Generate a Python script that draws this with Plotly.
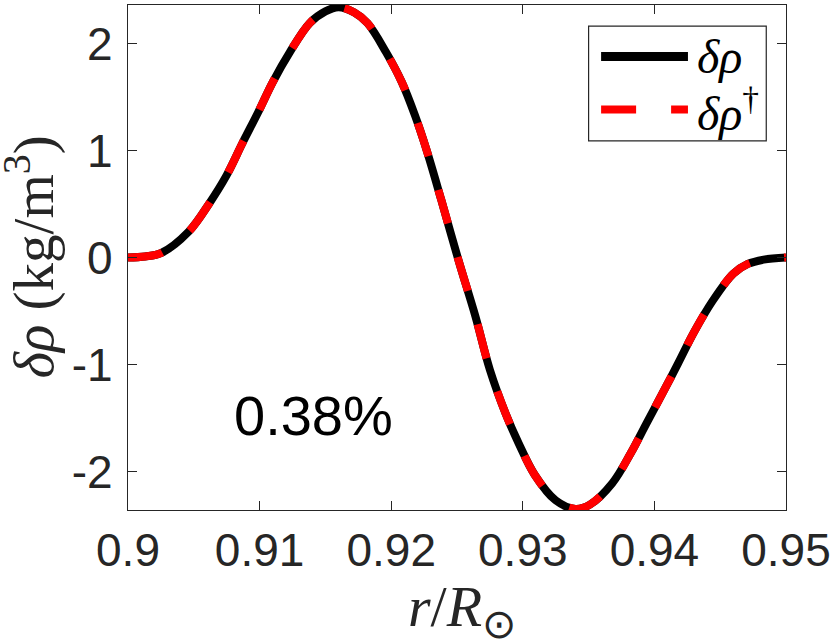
import plotly.graph_objects as go

# radius r/R_sun and density perturbation (kg/m^3)
r_ratio = [0.9000, 0.9013, 0.9025, 0.9046, 0.9062, 0.9075, 0.9087, 0.9099, 0.9110,
           0.9123, 0.9138, 0.9150, 0.9160, 0.9172, 0.9182, 0.9196, 0.9208, 0.9218,
           0.9227, 0.9238, 0.9251, 0.9264, 0.9275, 0.9287, 0.9297, 0.9309, 0.9325,
           0.9340, 0.9351, 0.9368, 0.9382, 0.9394, 0.9407, 0.9418, 0.9430, 0.9444,
           0.9460, 0.9471, 0.9483, 0.9500]
drho = [0.00, 0.01, 0.04, 0.24, 0.51, 0.77, 1.07, 1.36, 1.64,
        1.92, 2.19, 2.30, 2.34, 2.29, 2.19, 1.92, 1.64, 1.33,
        1.00, 0.54, -0.02, -0.55, -1.05, -1.46, -1.74, -2.03, -2.27,
        -2.35, -2.31, -2.11, -1.83, -1.55, -1.25, -0.99, -0.70, -0.41,
        -0.15, -0.06, -0.02, 0.00]
# the adjoint curve lies on top of the forward one
drho_adj = [0.00, 0.01, 0.04, 0.24, 0.51, 0.77, 1.07, 1.36, 1.64,
            1.92, 2.19, 2.30, 2.34, 2.29, 2.19, 1.92, 1.64, 1.33,
            1.00, 0.54, -0.02, -0.55, -1.05, -1.46, -1.74, -2.03, -2.27,
            -2.35, -2.31, -2.11, -1.83, -1.55, -1.25, -0.99, -0.70, -0.41,
            -0.15, -0.06, -0.02, 0.00]

x_ticks = [0.9, 0.91, 0.92, 0.93, 0.94, 0.95]
x_tick_text = ['0.9', '0.91', '0.92', '0.93', '0.94', '0.95']
y_ticks = [-2, -1, 0, 1, 2]
y_tick_text = ['-2', '-1', '0', '1', '2']
legend_names = ['<i>δρ</i>', '<i>δρ</i><sup>†</sup>']
error_label = '0.38%'

AXIS_COLOR = '#262626'
SANS = 'Liberation Sans, Arial, sans-serif'
SERIF = 'Liberation Serif, Times New Roman, serif'

fig = go.Figure()
fig.add_trace(go.Scatter(x=r_ratio, y=drho, mode='lines', line_shape='spline',
                         line=dict(color='black', width=8), showlegend=False))
fig.add_trace(go.Scatter(x=r_ratio, y=drho_adj, mode='lines', line_shape='spline',
                         line=dict(color='#ff0000', width=8, dash='35px,35px'),
                         showlegend=False))

axis_common = dict(
    showline=True, linecolor=AXIS_COLOR, linewidth=1.2, mirror='ticks',
    ticks='inside', ticklen=9, tickwidth=1.2, tickcolor=AXIS_COLOR,
    showgrid=False, zeroline=False, ticklabeloverflow='allow', automargin=False,
    tickfont=dict(family=SANS, size=46, color=AXIS_COLOR),
)
fig.update_xaxes(range=[0.9, 0.95], tickvals=x_ticks, ticktext=x_tick_text,
                 ticklabelstandoff=0, **axis_common)
fig.update_yaxes(range=[-2.36, 2.36], tickvals=y_ticks, ticktext=y_tick_text,
                 ticklabelstandoff=5, **axis_common)

# hand-built legend box, MATLAB style with long line samples
fig.add_shape(type='rect', xref='paper', yref='paper', x0=0.70, x1=0.970, y0=0.731, y1=0.958,
              line=dict(color=AXIS_COLOR, width=1.2), fillcolor='white')
fig.add_shape(type='line', xref='paper', yref='paper', x0=0.719, x1=0.851, y0=0.898, y1=0.898,
              line=dict(color='black', width=9))
fig.add_shape(type='line', xref='paper', yref='paper', x0=0.719, x1=0.851, y0=0.793, y1=0.793,
              line=dict(color='#ff0000', width=8, dash='35px,35px'))
for name, ypos in zip(legend_names, [0.898, 0.793]):
    fig.add_annotation(text=name, xref='paper', yref='paper', x=0.862, y=ypos,
                       xanchor='left', yanchor='middle', showarrow=False,
                       font=dict(family=SERIF, size=48, color='black'))

fig.add_annotation(text=error_label, x=0.91413, y=-1.48, showarrow=False,
                   font=dict(family=SANS, size=56, color='black'))

# axis titles
fig.add_annotation(text='<i>δρ</i> (kg/m<sup>3</sup>)', xref='paper', yref='paper',
                   x=0, y=0.5, xshift=-98, textangle=-90, showarrow=False,
                   xanchor='center', yanchor='middle',
                   font=dict(family=SERIF, size=57, color=AXIS_COLOR))
fig.add_annotation(text='<i>r</i>/<i>R</i><sub>⊙</sub>', xref='paper', yref='paper',
                   x=0.5, y=0, xshift=5, yshift=-100, showarrow=False,
                   xanchor='center', yanchor='middle',
                   font=dict(family=SERIF, size=58, color=AXIS_COLOR))

fig.update_layout(
    width=830, height=640,
    margin=dict(l=128, r=44, t=5, b=130),
    plot_bgcolor='white', paper_bgcolor='white',
    showlegend=False,
)
fig.write_html("out.html", config={'displayModeBar': False},
               post_script="document.body.style.margin='0';")
